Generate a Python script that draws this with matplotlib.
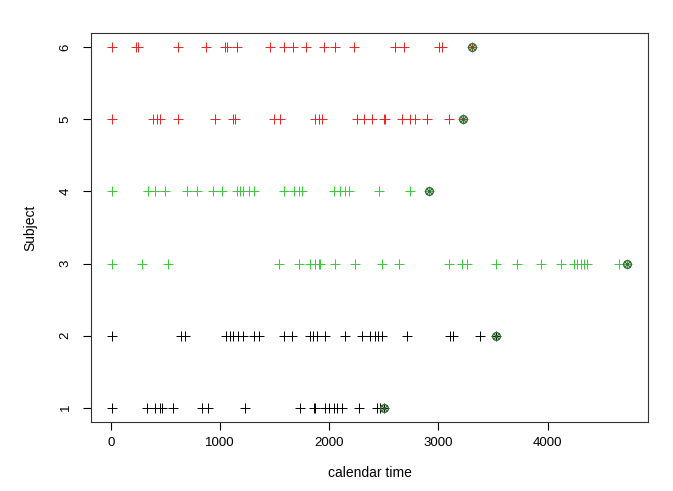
import matplotlib
matplotlib.use('Agg')
import matplotlib.pyplot as plt

plt.rcParams['font.family'] = ['Liberation Sans', 'DejaVu Sans']

# event times per subject
s1 = [6, 327, 404, 450, 465, 572, 832, 893, 1229, 1734, 1856, 1872, 1963, 1994,
      2040, 2070, 2116, 2269, 2438, 2468]
s2 = [6, 639, 679, 1055, 1086, 1122, 1168, 1214, 1306, 1352, 1581, 1658, 1826,
      1850, 1887, 1963, 2147, 2300, 2376, 2422, 2443, 2484, 2713, 3110, 3135, 3379]
s3 = [6, 281, 526, 1535, 1719, 1826, 1872, 1902, 1917, 2055, 2239, 2484, 2636,
      3095, 3217, 3263, 3523, 3722, 3936, 4119, 4242, 4272, 4303, 4333, 4364, 4654]
s4 = [6, 342, 404, 495, 694, 786, 939, 1015, 1153, 1183, 1214, 1260, 1306, 1581,
      1673, 1719, 1749, 2040, 2101, 2147, 2177, 2453, 2743]
s5 = [6, 388, 419, 450, 617, 954, 1122, 1138, 1489, 1550, 1872, 1902, 1933, 2254,
      2315, 2392, 2498, 2514, 2667, 2743, 2789, 2896, 3095]
s6 = [6, 229, 245, 617, 872, 1046, 1061, 1153, 1459, 1581, 1667, 1789, 1948, 2055,
      2223, 2606, 2682, 3003, 3034]
events = [s1, s2, s3, s4, s5, s6]
end_times = [2498, 3523, 4731, 2911, 3226, 3309]
subjects = [1, 2, 3, 4, 5, 6]
colors = ['black', 'black', '#33cc33', '#33cc33', '#ee2222', '#ee2222']

fig = plt.figure(figsize=(6.73, 4.91), dpi=100)
ax = fig.add_axes([0.1352, 0.1405, 0.8277, 0.7923])

for subj, times, col, end in zip(subjects, events, colors, end_times):
    ax.plot(times, [subj] * len(times), linestyle='none', marker='+',
            markersize=7.5, markeredgewidth=0.7, color=col)
    ax.plot([end], [subj], linestyle='none', marker='+', markersize=7.5,
            markeredgewidth=0.7, color=col)
    ax.plot([end], [subj], linestyle='none', marker='o', markersize=5.5,
            markerfacecolor='none', markeredgecolor='#2f6f2f', markeredgewidth=1.0)
    ax.plot([end], [subj], linestyle='none', marker='x', markersize=4.5,
            markeredgewidth=0.9, color='#2f6f2f')

ax.set_xlim(-183, 4920)
ax.set_ylim(0.8, 6.2)
ax.set_xticks([0, 1000, 2000, 3000, 4000])
ax.set_yticks(subjects)
ax.set_yticklabels([str(s) for s in subjects], rotation=90, va='center')
ax.tick_params(direction='out', length=6, width=0.8, labelsize=9.5, pad=5)
ax.tick_params(axis='y', pad=8)
for sp in ax.spines.values():
    sp.set_linewidth(0.8)
    sp.set_color('#333333')

ax.set_xlabel('calendar time', fontsize=10, labelpad=12)
ax.set_ylabel('Subject', fontsize=10, labelpad=16)

fig.savefig('out.png', dpi=100)
